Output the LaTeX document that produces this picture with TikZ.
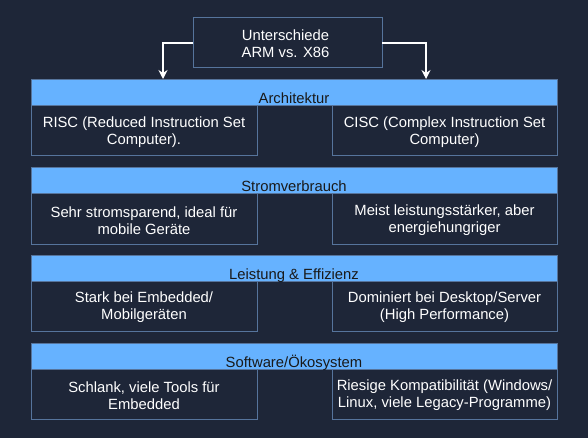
\documentclass[tikz,border=0pt]{standalone}
\usepackage{fontspec}
\setmainfont{Liberation Sans}
\usetikzlibrary{arrows.meta,calc}
\definecolor{bg}{HTML}{1E2638}
\definecolor{bandfill}{HTML}{66B2FF}
\definecolor{edge}{HTML}{56749C}
\begin{document}
\begin{tikzpicture}[x=1pt,y=-1pt,
  every node/.style={inner sep=0pt,outer sep=0pt},
  txt/.style={font=\fontsize{14.8}{17}\selectfont,text=white,align=center},
  box/.style={draw=edge,line width=1pt,fill=bg,minimum height=50pt},
  band/.style={draw=edge,line width=1pt,fill=bandfill,minimum width=526pt,minimum height=26pt},
  bandtxt/.style={font=\fontsize{14.8}{17}\selectfont,text=black!90,anchor=base},
  conn/.style={draw=white,line width=1.3pt,-{Stealth[length=9pt,width=9pt]}}]
\useasboundingbox[fill=bg] (0,0) rectangle (588,438);

\node[box,minimum width=189pt] (top) at (287.5,43) {};
\node[txt] (toptxt) at (285.5,44) {Unterschiede\\ARM vs. X86};

\foreach \i/\y/\lab/\l/\r in {
  1/80/{Architektur}/{RISC (Reduced Instruction Set\\Computer).}/{CISC (Complex Instruction Set\\Computer)},
  2/168/{Stromverbrauch}/{Sehr stromsparend, ideal für\\mobile Geräte}/{Meist leistungsstärker, aber\\energiehungriger},
  3/255/{Leistung \& Effizienz}/{Stark bei Embedded/\\Mobilgeräten}/{Dominiert bei Desktop/Server\\(High Performance)},
  4/343/{Software/Ökosystem}/{Schlank, viele Tools für\\Embedded}/{Riesige Kompatibilität (Windows/\\Linux, viele Legacy-Programme)}}{
  \node[band] (band\i) at (294,\y+13) {};
  \node[bandtxt] (bandlab\i) at (294,\y+24) {\lab};
  \node[box,minimum width=226pt] (left\i) at (144,\y+51) {};
  \node[box,minimum width=225pt] (right\i) at (444.5,\y+51) {};
  \node[txt] (lefttxt\i) at (144,\y+52.5) {\l};
  \node[txt] (righttxt\i) at (444.5,\y+52.5) {\r};
}

\coordinate (la) at (163,79);
\coordinate (ra) at (426,79);
\draw[conn] (top.west) -| (la);
\draw[conn] (top.east) -| (ra);
\end{tikzpicture}
\end{document}
